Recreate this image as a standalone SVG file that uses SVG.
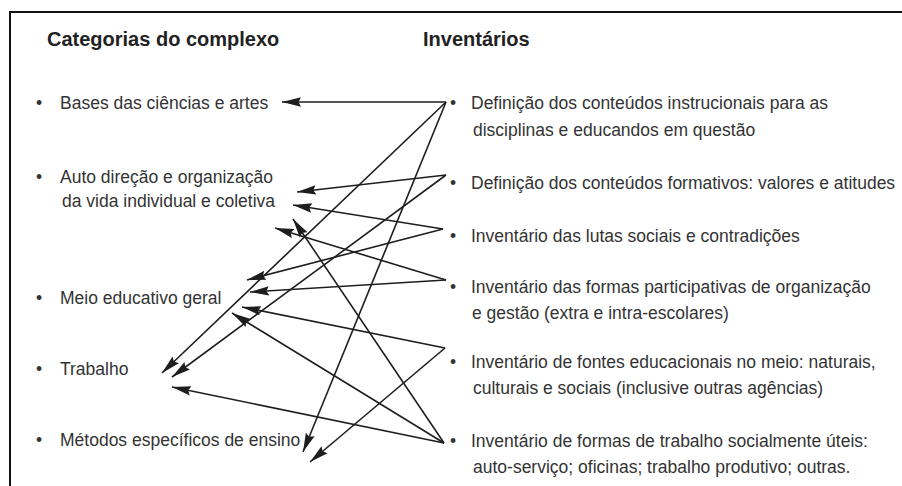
<svg xmlns="http://www.w3.org/2000/svg" width="902" height="486" viewBox="0 0 902 486">
<style>
  .t { font-family: "Liberation Sans", Arial, sans-serif; font-size: 17.5px; fill: #333; }
  .h { font-family: "Liberation Sans", Arial, sans-serif; font-size: 20px; font-weight: bold; fill: #222; }
  .c { stroke: #1e1e1e; stroke-width: 1.6; fill: none; marker-end: url(#ah); }
  .f { stroke: #111; stroke-width: 2; fill: none; }
</style>
<defs>
  <marker id="ah" markerUnits="userSpaceOnUse" markerWidth="20" markerHeight="11" refX="19" refY="5" orient="auto">
    <path d="M0,0.3 L19,5 L0,9.7 L2.5,5 Z" fill="#1e1e1e"/>
  </marker>
</defs>
<rect width="902" height="486" fill="#fff"/>
<g id="frame">
  <path class="f" d="M10,486 L10,12 L902,12"/>
</g>
<g id="headers">
  <text class="h" x="47" y="46">Categorias do complexo</text>
  <text class="h" x="423" y="46">Inventários</text>
</g>
<g id="cat-bases">
  <text class="t" x="36" y="109">•</text>
  <text class="t" x="60" y="109">Bases das ciências e artes</text>
</g>
<g id="cat-auto">
  <text class="t" x="36" y="183">•</text>
  <text class="t" x="60" y="183">Auto direção e organização</text>
  <text class="t" x="62" y="207">da vida individual e coletiva</text>
</g>
<g id="cat-meio">
  <text class="t" x="36" y="304">•</text>
  <text class="t" x="60" y="304">Meio educativo geral</text>
</g>
<g id="cat-trabalho">
  <text class="t" x="36" y="375">•</text>
  <text class="t" x="60" y="375">Trabalho</text>
</g>
<g id="cat-metodos">
  <text class="t" x="36" y="446">•</text>
  <text class="t" x="60" y="446">Métodos específicos de ensino</text>
</g>
<g id="inv-instrucionais">
  <text class="t" x="450" y="109">•</text>
  <text class="t" x="471" y="109">Definição dos conteúdos instrucionais para as</text>
  <text class="t" x="473" y="136">disciplinas e educandos em questão</text>
</g>
<g id="inv-formativos">
  <text class="t" x="450" y="189">•</text>
  <text class="t" x="471" y="189">Definição dos conteúdos formativos: valores e atitudes</text>
</g>
<g id="inv-lutas">
  <text class="t" x="450" y="242">•</text>
  <text class="t" x="471" y="242">Inventário das lutas sociais e contradições</text>
</g>
<g id="inv-participativas">
  <text class="t" x="450" y="293">•</text>
  <text class="t" x="471" y="293">Inventário das formas participativas de organização</text>
  <text class="t" x="472" y="319">e gestão (extra e intra-escolares)</text>
</g>
<g id="inv-fontes">
  <text class="t" x="450" y="368">•</text>
  <text class="t" x="471" y="368">Inventário de fontes educacionais no meio: naturais,</text>
  <text class="t" x="473" y="394">culturais e sociais (inclusive outras agências)</text>
</g>
<g id="inv-trabalho">
  <text class="t" x="450" y="447">•</text>
  <text class="t" x="471" y="447">Inventário de formas de trabalho socialmente úteis:</text>
  <text class="t" x="473" y="473">auto-serviço; oficinas; trabalho produtivo; outras.</text>
</g>
<g id="connectors">
  <line class="c" x1="446" y1="102" x2="282" y2="102"/>
  <line class="c" x1="446" y1="102" x2="162" y2="373"/>
  <line class="c" x1="446" y1="102" x2="303" y2="452"/>
  <line class="c" x1="446" y1="175" x2="297" y2="192"/>
  <line class="c" x1="446" y1="175" x2="172" y2="377"/>
  <line class="c" x1="443" y1="229" x2="293" y2="205"/>
  <line class="c" x1="443" y1="229" x2="247" y2="280"/>
  <line class="c" x1="446" y1="280" x2="275" y2="228"/>
  <line class="c" x1="446" y1="280" x2="250" y2="292"/>
  <line class="c" x1="445" y1="348" x2="242" y2="307"/>
  <line class="c" x1="445" y1="348" x2="310" y2="462"/>
  <line class="c" x1="444" y1="443" x2="293" y2="219"/>
  <line class="c" x1="444" y1="443" x2="232" y2="313"/>
  <line class="c" x1="444" y1="443" x2="172" y2="387"/>
</g>
</svg>
